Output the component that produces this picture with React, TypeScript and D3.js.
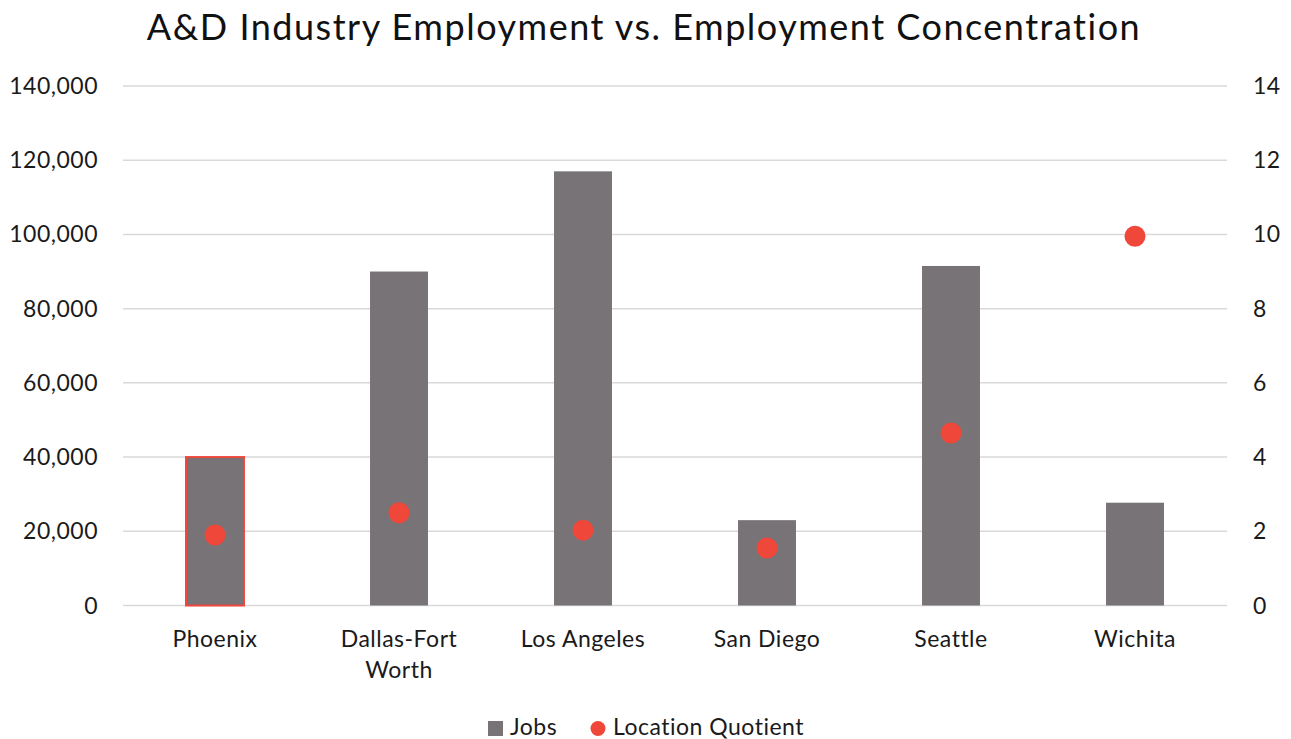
import React from "react";
import * as d3 from "d3";

const categories = ["Phoenix", "Dallas-Fort Worth", "Los Angeles", "San Diego", "Seattle", "Wichita"];
const categoryLines = [["Phoenix"], ["Dallas-Fort", "Worth"], ["Los Angeles"], ["San Diego"], ["Seattle"], ["Wichita"]];
const jobs = [40000, 90000, 117000, 23000, 91500, 27700];
const locationQuotient = [1.9, 2.5, 2.03, 1.55, 4.65, 9.95];
const leftTicks = [0, 20000, 40000, 60000, 80000, 100000, 120000, 140000];
const rightTicks = [0, 2, 4, 6, 8, 10, 12, 14];

const W = 1291;
const H = 739;
const FONT = "Lato, 'Noto Sans', sans-serif";
const BAR = "#787377";
const RED = "#ef473a";
const TXT = "#1a1a1a";
const FS = 23;
const LS = 0.5;

export default function App() {
  const left = 123, right = 1227, top = 86, bottom = 605.5;
  const x = d3.scaleBand<string>().domain(categories).range([left, right]).paddingInner(0.685).paddingOuter(0.3425);
  const yL = d3.scaleLinear().domain([0, 140000]).range([bottom, top]);
  const yR = d3.scaleLinear().domain([0, 14]).range([bottom, top]);
  const fmt = d3.format(",");
  const bw = x.bandwidth();
  return (
    <svg width={W} height={H} style={{ display: "block", position: "absolute", left: 0, top: 0 }} fontFamily={FONT}>
      <rect width={W} height={H} fill="#fff" />
      <text x={644} y={40} textAnchor="middle" fontSize={36} letterSpacing={1.5} fill="#111">A&amp;D Industry Employment vs. Employment Concentration</text>
      {leftTicks.map((t) => (
        <g key={t}>
          <line x1={left} x2={right} y1={yL(t)} y2={yL(t)} stroke="#d9d9d9" strokeWidth={1.5} />
          <text x={98} y={yL(t)} dy="0.35em" textAnchor="end" fontSize={FS} letterSpacing={LS} fill={TXT}>{fmt(t)}</text>
        </g>
      ))}
      {rightTicks.map((t) => (
        <text key={t} x={1253} y={yR(t)} dy="0.35em" textAnchor="start" fontSize={FS} letterSpacing={LS} fill={TXT}>{t}</text>
      ))}
      {categories.map((c, i) => (
        <rect key={c} x={x(c)!} y={yL(jobs[i])} width={bw} height={bottom - yL(jobs[i])} fill={BAR}
          stroke={i === 0 ? RED : "none"} strokeWidth={i === 0 ? 2 : 0} />
      ))}
      {categories.map((c, i) => (
        <circle key={c} cx={x(c)! + bw / 2} cy={yR(locationQuotient[i])} r={10.5} fill={RED} />
      ))}
      {categories.map((c, i) => (
        <text key={c} x={x(c)! + bw / 2} y={647} textAnchor="middle" fontSize={FS} letterSpacing={LS} fill={TXT}>
          {categoryLines[i].map((l, j) => (
            <tspan key={j} x={x(c)! + bw / 2} dy={j === 0 ? 0 : 31}>{l}</tspan>
          ))}
        </text>
      ))}
      <g>
        <rect x={488} y={721} width={15} height={15} fill={BAR} />
        <text x={510} y={735} fontSize={FS} letterSpacing={LS} fill={TXT}>Jobs</text>
        <circle cx={598} cy={728.5} r={7.5} fill={RED} />
        <text x={613} y={735} fontSize={FS} letterSpacing={LS} fill={TXT}>Location Quotient</text>
      </g>
    </svg>
  );
}
